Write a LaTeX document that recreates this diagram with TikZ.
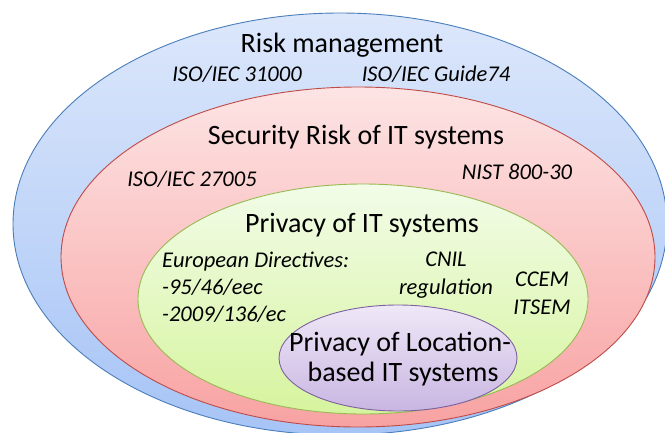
\documentclass[tikz,border=0pt]{standalone}
\usepackage{fontspec}
\setmainfont{Carlito}
\usetikzlibrary{shapes.geometric}
\definecolor{bluetop}{HTML}{DCE7FB}
\definecolor{bluebot}{HTML}{A6C4F6}
\definecolor{blueline}{HTML}{4A7EBB}
\definecolor{redtop}{HTML}{FDE4E4}
\definecolor{redbot}{HTML}{F8A2A2}
\definecolor{redline}{HTML}{BE4B48}
\definecolor{greentop}{HTML}{F2FCE8}
\definecolor{greenbot}{HTML}{D6F49E}
\definecolor{greenline}{HTML}{98B954}
\definecolor{purptop}{HTML}{EFE8F7}
\definecolor{purpbot}{HTML}{C9B6E2}
\definecolor{purpline}{HTML}{7D60A0}
\tikzset{
  zone/.style={ellipse, inner sep=0pt, line width=0.9pt},
  title/.style={anchor=base, font=\fontsize{28}{33}\selectfont, inner sep=0pt},
  std/.style={anchor=base, font=\fontsize{22.5}{27}\selectfont\itshape, inner sep=0pt},
}
\begin{document}
\begin{tikzpicture}[x=1pt,y=-1pt]
\useasboundingbox (0,0) rectangle (665,432);
\node[zone, draw=blueline, top color=bluetop, bottom color=bluebot,
  minimum width=654pt, minimum height=422pt] (risk) at (340,224) {};
\node[zone, draw=redline, top color=redtop, bottom color=redbot,
  minimum width=594pt, minimum height=340pt] (sec) at (358,257) {};
\node[zone, draw=greenline, top color=greentop, bottom color=greenbot,
  minimum width=450pt, minimum height=230pt] (priv) at (363,299) {};
\node[zone, draw=purpline, top color=purptop, bottom color=purpbot,
  minimum width=238pt, minimum height=106pt] (loc) at (398,358) {};

\node[title] (t1) at (342,52.7) {Risk management};
\node[std] (s1) at (237,81) {ISO/IEC 31000};
\node[std] (s2) at (436,81) {ISO/IEC Guide74};
\node[title] (t2) at (356,144) {Security Risk of IT systems};
\node[std] (s3) at (192,186.7) {ISO/IEC 27005};
\node[std] (s4) at (517,179.3) {NIST 800-30};
\node[title] (t3) at (362,232.7) {Privacy of IT systems};
\node[std, anchor=base west] (e1) at (162,267.3) {European Directives:};
\node[std, anchor=base west] (e2) at (162,294.3) {-95/46/eec};
\node[std, anchor=base west] (e3) at (162,321) {-2009/136/ec};
\node[std] (c1) at (446,266.7) {CNIL};
\node[std] (c2) at (446,294.3) {regulation};
\node[std] (c3) at (542,286.7) {CCEM};
\node[std] (c4) at (542,314) {ITSEM};
\node[title] (t4) at (400,351) {Privacy of Location-};
\node[title] (t5) at (403,381.7) {based IT systems};
\end{tikzpicture}
\end{document}
